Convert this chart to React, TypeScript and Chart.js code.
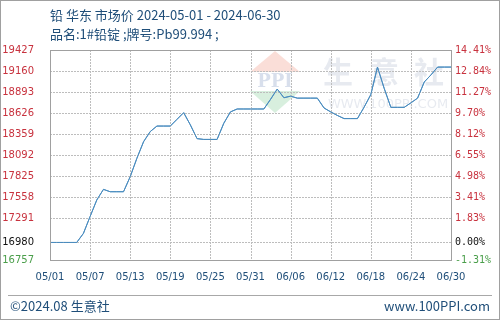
import React, { useEffect, useRef } from "react";
import { Chart, registerables } from "chart.js";

Chart.register(...registerables);

const startDate = [2024, 4, 1]; // 2024-05-01
const dayCount = 61;
const labelStep = 6;

const prices = [
  16980, 16980, 16980, 16980, 16980, 17095, 17310, 17520, 17655, 17625,
  17625, 17625, 17816, 18050, 18261, 18390, 18460, 18460, 18460, 18545,
  18630, 18475, 18300, 18290, 18290, 18290, 18495, 18640, 18677, 18677,
  18677, 18677, 18677, 18800, 18930, 18820, 18840, 18815, 18815, 18815,
  18815, 18690, 18640, 18595, 18555, 18555, 18555, 18700, 18860, 19210,
  18940, 18698, 18698, 18698, 18755, 18815, 19020, 19110, 19210, 19210,
  19210,
];

const baseValue = 16980;
const yTicks = [16757, 16980, 17291, 17558, 17825, 18092, 18359, 18626, 18893, 19160, 19427];
const yTickLabels = ["16757", "16980", "17291", "17558", "17825", "18092", "18359", "18626", "18893", "19160", "19427"];
const pctTickLabels = ["-1.31%", "0.00%", "1.83%", "3.41%", "4.98%", "6.55%", "8.12%", "9.70%", "11.27%", "12.84%", "14.41%"];

const titleLine1 = "铅 华东 市场价 2024-05-01 - 2024-06-30";
const titleLine2 = "品名:1#铅锭 ;牌号:Pb99.994 ;";
const footerLeft = "©2024.08 生意社";
const footerRight = "www.100PPI.com";

const RED = "#c8323e";
const GREEN = "#4a9e4a";
const BLACK = "#111111";
const BLUE_TEXT = "#1f4e79";

function makeLabels(): string[] {
  const out: string[] = [];
  for (let i = 0; i < dayCount; i++) {
    const d = new Date(startDate[0], startDate[1], startDate[2] + i);
    const mm = String(d.getMonth() + 1).padStart(2, "0");
    const dd = String(d.getDate()).padStart(2, "0");
    out.push(mm + "/" + dd);
  }
  return out;
}

function tickColor(v: number) {
  if (v > baseValue) return RED;
  if (v === baseValue) return BLACK;
  return GREEN;
}

const decorPlugin = {
  id: "decor",
  beforeDraw(chart: any) {
    const ctx = chart.ctx;
    ctx.save();
    ctx.globalAlpha = 0.35;
    ctx.fillStyle = "#f0a090";
    ctx.beginPath();
    ctx.moveTo(275, 51);
    ctx.lineTo(300, 72);
    ctx.lineTo(250, 72);
    ctx.closePath();
    ctx.fill();
    ctx.fillStyle = "#90d0a0";
    ctx.beginPath();
    ctx.moveTo(250, 91);
    ctx.lineTo(300, 91);
    ctx.lineTo(275, 113);
    ctx.closePath();
    ctx.fill();
    ctx.fillStyle = "#8fa3c8";
    ctx.font = "bold 18px 'DejaVu Serif'";
    ctx.textAlign = "center";
    ctx.textBaseline = "middle";
    ctx.fillText("PPI", 275, 82);
    ctx.globalAlpha = 0.28;
    ctx.fillStyle = "#a8b4c8";
    ctx.font = "bold 30px 'Noto Sans CJK SC'";
    ctx.fillText("生", 338, 72);
    ctx.fillText("意", 384, 72);
    ctx.fillText("社", 429, 72);
    ctx.font = "13px 'DejaVu Sans'";
    ctx.fillText("WWW.100PPI.COM", 388, 105);
    ctx.restore();
  },
  afterDraw(chart: any) {
    const ctx = chart.ctx;
    const a = chart.chartArea;
    const left = Number(a.left);
    const right = Number(a.right);
    const top = Number(a.top);
    const bottom = Number(a.bottom);
    const yMin = yTicks[0];
    const yMax = yTicks[yTicks.length - 1];
    ctx.save();
    // dotted grid aligned with the axis ticks
    ctx.strokeStyle = "#bdbdbd";
    ctx.lineWidth = 1;
    ctx.setLineDash([2, 1]);
    for (let i = 1; i < yTicks.length - 1; i++) {
      const y = Math.round(bottom - ((yTicks[i] - yMin) / (yMax - yMin)) * (bottom - top)) + 0.5;
      ctx.beginPath();
      ctx.moveTo(left, y);
      ctx.lineTo(right, y);
      ctx.stroke();
    }
    for (let i = labelStep; i < dayCount - 1; i += labelStep) {
      const x = Math.round(left + (i / (dayCount - 1)) * (right - left)) + 0.5;
      ctx.beginPath();
      ctx.moveTo(x, top);
      ctx.lineTo(x, bottom);
      ctx.stroke();
    }
    ctx.setLineDash([]);
    // keep the series above the grid
    const meta = chart.getDatasetMeta(0);
    if (meta && meta.dataset) meta.dataset.draw(ctx, a);
    ctx.restore();

    ctx.save();
    ctx.strokeStyle = "#a0a0a0";
    ctx.lineWidth = 1;
    ctx.strokeRect(Math.round(left) + 0.5, Math.round(top) + 0.5, Math.round(right - left), Math.round(bottom - top));
    ctx.fillStyle = BLUE_TEXT;
    ctx.font = "13px 'Noto Sans CJK SC'";
    ctx.textAlign = "left";
    ctx.textBaseline = "middle";
    ctx.fillText(titleLine1, 50, 15);
    ctx.fillText(titleLine2, 50, 34);
    ctx.strokeStyle = "#a8a8a8";
    ctx.beginPath();
    ctx.moveTo(8, 295.5);
    ctx.lineTo(492, 295.5);
    ctx.stroke();
    ctx.fillText(footerLeft, 10, 306);
    ctx.textAlign = "right";
    ctx.fillText(footerRight, 490, 306);
    ctx.strokeStyle = "#a0a0a0";
    ctx.strokeRect(0.5, 0.5, chart.width - 1, chart.height - 1);
    ctx.restore();
  },
};

export default function App() {
  const ref = useRef<HTMLCanvasElement | null>(null);
  useEffect(() => {
    document.body.style.margin = "0";
    document.body.style.background = "#ffffff";
    const labels = makeLabels();
    const setTicks = (scale: any) => {
      scale.ticks = yTicks.map((v) => ({ value: v }));
    };
    const chart = new Chart(ref.current as HTMLCanvasElement, {
      type: "line",
      data: {
        labels,
        datasets: [
          {
            data: prices,
            borderColor: "#4a8cbf",
            borderWidth: 1,
            pointRadius: 0,
            tension: 0,
            fill: false,
          },
        ],
      },
      options: {
        animation: false,
        responsive: false,
        layout: { padding: { top: 50, left: 0, right: 0, bottom: 0 } },
        plugins: { legend: { display: false }, tooltip: { enabled: false }, title: { display: false } },
        scales: {
          x: {
            type: "category",
            offset: false,
            afterFit: (s: any) => {
              s.height = 60;
            },
            grid: { display: false, drawTicks: false },
            border: { display: false },
            ticks: {
              autoSkip: false,
              maxRotation: 0,
              padding: 11,
              color: BLUE_TEXT,
              font: { family: "'DejaVu Sans'", size: 10 },
              callback: (_v: any, i: number) => (i % labelStep === 0 ? labels[i] : null),
            },
          },
          y: {
            position: "left",
            min: yTicks[0],
            max: yTicks[yTicks.length - 1],
            afterBuildTicks: setTicks,
            afterFit: (s: any) => {
              s.width = 50;
            },
            grid: { display: false, drawTicks: false },
            border: { display: false },
            ticks: {
              padding: 16,
              font: { family: "'DejaVu Sans'", size: 10 },
              color: (c: any) => tickColor(c.tick.value),
              callback: (_v: any, i: number) => yTickLabels[i],
            },
          },
          y1: {
            position: "right",
            min: yTicks[0],
            max: yTicks[yTicks.length - 1],
            afterBuildTicks: setTicks,
            afterFit: (s: any) => {
              s.width = 49;
            },
            grid: { display: false, drawTicks: false },
            border: { display: false },
            ticks: {
              padding: 4,
              font: { family: "'DejaVu Sans Mono'", size: 10 },
              color: (c: any) => tickColor(c.tick.value),
              callback: (_v: any, i: number) => pctTickLabels[i],
            },
          },
        },
      },
      plugins: [decorPlugin],
    } as any);
    return () => chart.destroy();
  }, []);
  return <canvas ref={ref} width={500} height={320} style={{ display: "block", background: "#ffffff" }} />;
}
